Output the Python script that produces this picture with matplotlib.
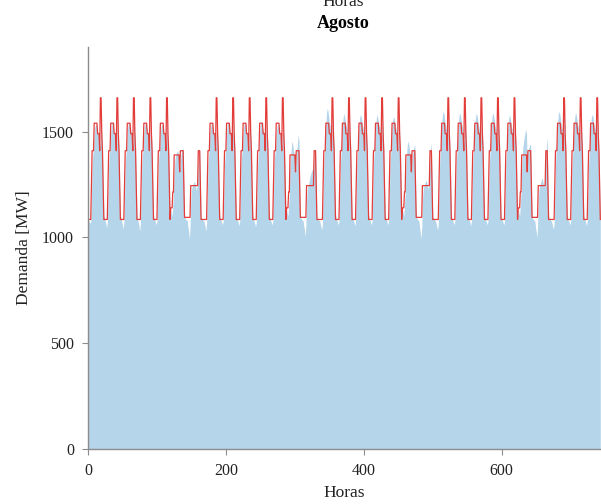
import matplotlib
matplotlib.use('Agg')
import matplotlib.pyplot as plt
import numpy as np

plt.rcParams['font.family'] = ['Liberation Serif', 'DejaVu Serif']

# block levels (MW) per hour of day for each type of day
blk_laboral = [1085,1085,1085,1085,1085,1250,1410,1410,1410,1540,1540,1540,1540,1540,1490,1490,1490,1410,1660,1660,1490,1410,1250,1085]
blk_sabado = [1140,1140,1140,1215,1215,1390,1390,1390,1390,1390,1390,1390,1390,1310,1410,1410,1410,1410,1410,1250,1095,1095,1095,1095]
blk_domingo = [1095,1095,1095,1095,1095,1245,1245,1245,1245,1245,1245,1245,1245,1245,1245,1245,1410,1410,1410,1250,1085,1085,1085,1085]

# day type for every day of August (L weekday, S saturday, D sunday)
tipo_dia = list('LLLLLSD' * 4 + 'LLL')

# hourly demand (MW), one row per day
demanda_dias = [
    [1090,1080,1075,1065,1075,1190,1335,1390,1420,1485,1520,1535,1530,1515,1500,1490,1475,1415,1475,1545,1490,1400,1240,1105],
    [1090,1075,1065,1045,1070,1190,1340,1395,1420,1490,1525,1545,1535,1515,1495,1490,1470,1410,1480,1550,1495,1405,1245,1105],
    [1090,1075,1060,1040,1070,1185,1335,1390,1420,1495,1530,1545,1540,1520,1505,1495,1480,1420,1485,1555,1495,1400,1240,1105],
    [1085,1070,1055,1030,1065,1185,1335,1390,1415,1490,1525,1540,1535,1520,1500,1495,1475,1415,1480,1550,1490,1400,1240,1105],
    [1090,1080,1070,1060,1075,1190,1340,1395,1420,1490,1520,1535,1530,1510,1495,1485,1470,1410,1475,1540,1480,1390,1245,1110],
    [1135,1115,1100,1150,1200,1310,1360,1385,1395,1405,1410,1400,1370,1300,1360,1395,1410,1415,1425,1260,1100,1090,1085,1080],
    [1080,1050,1030, 990,1045,1170,1220,1240,1250,1255,1265,1260,1245,1225,1235,1270,1350,1400,1415,1260,1100,1090,1085,1080],
    [1080,1065,1050,1030,1065,1185,1335,1390,1420,1490,1525,1540,1535,1520,1500,1490,1475,1420,1480,1550,1490,1400,1240,1105],
    [1090,1080,1070,1060,1075,1190,1340,1395,1420,1495,1530,1545,1540,1520,1505,1495,1480,1420,1485,1555,1495,1405,1245,1105],
    [1090,1080,1070,1055,1075,1190,1335,1390,1420,1490,1525,1545,1540,1520,1500,1490,1475,1415,1480,1550,1490,1400,1240,1105],
    [1090,1075,1065,1050,1070,1190,1340,1395,1425,1500,1535,1550,1545,1525,1505,1495,1480,1420,1485,1555,1495,1405,1245,1105],
    [1090,1080,1070,1060,1075,1190,1340,1395,1420,1490,1520,1535,1530,1510,1495,1485,1470,1410,1475,1545,1480,1395,1245,1110],
    [1135,1115,1100,1150,1200,1320,1380,1430,1455,1440,1410,1395,1370,1300,1380,1420,1450,1485,1460,1260,1100,1090,1085,1080],
    [1080,1055,1035,1005,1050,1175,1225,1245,1255,1270,1290,1300,1310,1320,1325,1300,1360,1400,1420,1265,1100,1090,1085,1080],
    [1080,1065,1050,1035,1065,1195,1345,1410,1460,1540,1590,1610,1600,1575,1545,1530,1510,1445,1505,1575,1510,1410,1245,1105],
    [1090,1080,1070,1060,1075,1195,1340,1400,1450,1525,1565,1585,1575,1555,1535,1525,1505,1440,1500,1570,1505,1410,1245,1105],
    [1090,1080,1070,1055,1075,1195,1340,1400,1450,1525,1565,1580,1575,1555,1535,1520,1500,1440,1500,1570,1505,1405,1245,1105],
    [1090,1080,1070,1060,1075,1190,1340,1400,1445,1520,1560,1580,1570,1550,1530,1520,1500,1435,1495,1565,1500,1405,1245,1105],
    [1090,1080,1070,1060,1075,1190,1340,1395,1440,1515,1555,1570,1565,1545,1525,1510,1495,1430,1490,1560,1490,1395,1245,1110],
    [1135,1115,1100,1155,1205,1325,1390,1435,1455,1445,1420,1400,1375,1305,1370,1400,1420,1430,1435,1260,1100,1090,1085,1080],
    [1075,1045,1020, 995,1045,1170,1220,1240,1250,1260,1270,1265,1250,1230,1240,1280,1360,1420,1445,1265,1100,1090,1085,1080],
    [1080,1065,1050,1035,1065,1195,1345,1405,1455,1535,1580,1595,1590,1565,1540,1525,1505,1440,1500,1575,1505,1410,1245,1105],
    [1090,1080,1070,1060,1075,1195,1340,1400,1450,1530,1570,1590,1580,1560,1535,1525,1505,1440,1500,1570,1505,1410,1245,1105],
    [1090,1080,1070,1055,1075,1195,1340,1400,1450,1530,1570,1585,1580,1560,1535,1520,1500,1440,1500,1570,1505,1405,1245,1105],
    [1090,1080,1070,1060,1075,1195,1340,1400,1450,1530,1570,1590,1580,1560,1535,1520,1500,1440,1500,1570,1505,1405,1245,1105],
    [1090,1080,1070,1060,1075,1190,1340,1395,1445,1520,1560,1580,1570,1550,1530,1515,1495,1430,1490,1560,1490,1395,1245,1110],
    [1135,1115,1100,1155,1205,1330,1395,1435,1460,1480,1500,1510,1490,1320,1400,1420,1430,1440,1440,1265,1100,1090,1085,1080],
    [1080,1050,1030,1000,1045,1170,1225,1245,1255,1265,1280,1275,1260,1240,1250,1290,1380,1440,1470,1270,1100,1090,1085,1080],
    [1080,1065,1050,1040,1065,1195,1345,1405,1455,1535,1580,1595,1590,1565,1540,1525,1505,1440,1500,1575,1505,1410,1245,1105],
    [1090,1080,1070,1060,1075,1195,1340,1400,1450,1530,1570,1590,1580,1560,1535,1525,1505,1440,1500,1570,1505,1410,1245,1105],
    [1090,1080,1070,1055,1075,1195,1340,1400,1450,1525,1565,1580,1575,1555,1530,1520,1500,1440,1500,1565,1500,1405,1245,1105],
]

bloques_por_tipo = {'L': blk_laboral, 'S': blk_sabado, 'D': blk_domingo}

demanda = np.concatenate([np.array(d) for d in demanda_dias])
bloques = np.concatenate([np.array(bloques_por_tipo[t]) for t in tipo_dia])
horas = np.arange(len(demanda))

fig = plt.figure(figsize=(6.01, 5.04), dpi=100)
ax = fig.add_axes([0.1464, 0.109, 0.8536, 0.7977])

ax.fill_between(horas, demanda, color='#b4d5ea', lw=0)
ax.plot(horas, bloques, color='#e33d3a', lw=0.9)

ax.set_xlim(0, 744)
ax.set_ylim(0, 1900)
ax.set_xticks([0, 200, 400, 600])
ax.set_yticks([0, 500, 1000, 1500])

for s in ['top', 'right']:
    ax.spines[s].set_visible(False)
for s in ['left', 'bottom']:
    ax.spines[s].set_color('#8c8c8c')
    ax.spines[s].set_linewidth(1.0)
ax.tick_params(direction='out', length=4, color='#8c8c8c', labelsize=11.5,
               labelcolor='#222222', pad=6)

ax.set_xlabel('Horas', fontsize=12.5, color='#222222', labelpad=4)
ax.set_ylabel('Demanda [MW]', fontsize=12.5, color='#222222', labelpad=7)

# subplot titles
fig.text(0.571, 1 - 23 / 504, 'Agosto', ha='center', va='center',
         fontsize=13, fontweight='bold')
fig.text(0.571, 1 - 2 / 504, 'Horas', ha='center', va='center', fontsize=12.5,
         color='#222222')

fig.savefig('out.png', dpi=100)
